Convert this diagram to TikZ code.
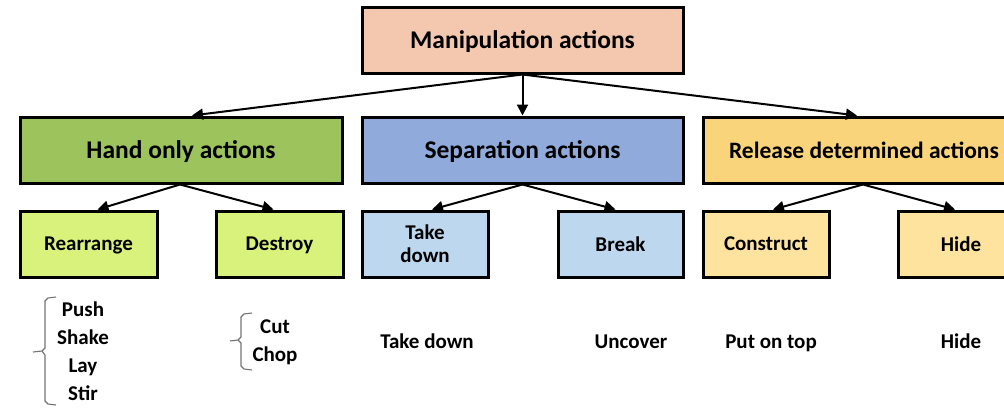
\documentclass[tikz,border=0pt]{standalone}
\usepackage{fontspec}
\setmainfont{Carlito}
\usetikzlibrary{arrows.meta}
\definecolor{cTop}{HTML}{F4C8AE}
\definecolor{cGreen}{HTML}{9DC35D}
\definecolor{cBlue}{HTML}{8FAADB}
\definecolor{cGold}{HTML}{FAD47A}
\definecolor{cGreenL}{HTML}{D8F27C}
\definecolor{cBlueL}{HTML}{BDD7EE}
\definecolor{cGoldL}{HTML}{FDE39E}
\tikzset{
  box/.style={draw=black, line width=3pt, rectangle, inner sep=0pt, align=center, font=\bfseries},
  bigbox/.style={box, minimum height=66pt, text depth=0pt, font=\bfseries\fontsize{25.5}{30}\selectfont},
  smallbox/.style={box, minimum height=66pt, text depth=0pt, font=\bfseries\fontsize{21}{24}\selectfont},
  arr/.style={line width=2pt, -{Triangle[length=11pt,width=11pt]}},
  leaf/.style={font=\bfseries\fontsize{21}{24}\selectfont, inner sep=0pt},
  bracecol/.style={draw=black!55, line width=1.1pt}
}
\begin{document}
\begin{tikzpicture}[x=1pt,y=-1pt]
\useasboundingbox (0,0) rectangle (1004,408);
\clip (0,0) rectangle (1004,408);
% level 0
\node[bigbox, fill=cTop, minimum width=321pt] (top) at (522.5,40) {Manipulation actions};
% level 1
\node[bigbox, fill=cGreen, minimum width=322pt] (hand) at (181,150) {Hand only actions};
\node[bigbox, fill=cBlue, minimum width=321pt] (sep) at (522.5,150) {Separation actions};
\node[bigbox, fill=cGold, minimum width=322pt, font=\bfseries\fontsize{23.5}{28}\selectfont] (rel) at (864,150) {Release determined actions};
% level 2
\node[smallbox, fill=cGreenL, minimum width=137pt] (rear) at (88.5,244) {Rearrange};
\node[smallbox, fill=cGreenL, minimum width=127pt] (dest) at (279.5,244) {Destroy};
\node[box, minimum height=66pt, fill=cBlueL, minimum width=126pt, font=\bfseries\fontsize{21}{23}\selectfont] (take) at (425,244) {Take\\down};
\node[smallbox, fill=cBlueL, minimum width=125pt] (brk) at (620.5,244) {Break};
\node[smallbox, fill=cGoldL, minimum width=126pt] (cons) at (766,244) {Construct};
\node[smallbox, fill=cGoldL, minimum width=126pt] (hide) at (961,244) {Hide};
% arrows level 0 -> 1
\draw[arr] (top.south) -- ([xshift=11pt]hand.north);
\draw[arr] (top.south) -- (sep.north);
\draw[arr] (top.south) -- ([xshift=-7pt]rel.north);
% arrows level 1 -> 2
\draw[arr] ([xshift=-1pt]hand.south) -- ([xshift=9pt]rear.north);
\draw[arr] ([xshift=-1pt]hand.south) -- ([xshift=-6pt]dest.north);
\draw[arr] (sep.south) -- ([xshift=7pt]take.north);
\draw[arr] (sep.south) -- ([xshift=-5pt]brk.north);
\draw[arr] ([xshift=-1pt]rel.south) -- ([xshift=7pt]cons.north);
\draw[arr] ([xshift=-1pt]rel.south) -- ([xshift=-6pt]hide.north);
% leaves
\node[leaf, anchor=base] (push) at (83,316) {Push};
\node[leaf, anchor=base] (shake) at (83,344) {Shake};
\node[leaf, anchor=base] (lay) at (83,372) {Lay};
\node[leaf, anchor=base] (stir) at (83,400) {Stir};
\node[leaf, anchor=base] (cut) at (275,333) {Cut};
\node[leaf, anchor=base] (chop) at (275,361) {Chop};
\node[leaf, anchor=base] (ltake) at (427,348) {Take down};
\node[leaf, anchor=base] (lunc) at (631,348) {Uncover};
\node[leaf, anchor=base] (lput) at (771,348) {Put on top};
\node[leaf, anchor=base] (lhide) at (961,348) {Hide};
% braces
\draw[bracecol] (56,297) -- (48,298) -- (45,301) -- (45,348) -- (42,351) -- (33,352)
  (42,351) -- (45,355) -- (45,401) -- (48,404) -- (56,405);
\draw[bracecol] (252,313) -- (244,314) -- (241,317) -- (241,337) -- (238,340) -- (230,341)
  (238,340) -- (241,343) -- (241,366) -- (244,369) -- (252,370);
\end{tikzpicture}
\end{document}
